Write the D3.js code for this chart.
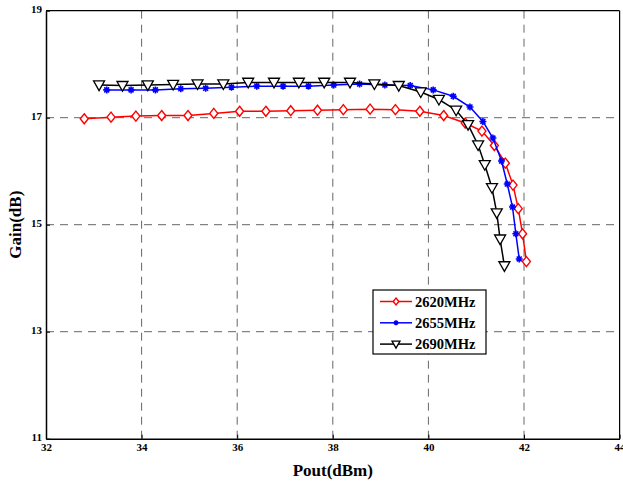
<!DOCTYPE html>
<html>
<head>
<meta charset="utf-8">
<script src="https://d3js.org/d3.v7.min.js"></script>
<style>
  body { margin: 0; background: #fff; }
  text { font-family: "Liberation Serif", "Times New Roman", serif; font-weight: bold; }
</style>
</head>
<body>
<div id="chart"></div>
<script>
// data
const pout2620 = [32.80, 33.36, 33.88, 34.42, 34.97, 35.51, 36.05, 36.60, 37.12, 37.68, 38.22, 38.78, 39.31, 39.82, 40.32, 40.77, 41.12, 41.38, 41.61, 41.77, 41.88, 41.97, 42.05];
const gain2620 = [16.98, 17.01, 17.03, 17.04, 17.04, 17.08, 17.12, 17.12, 17.13, 17.14, 17.15, 17.16, 17.15, 17.12, 17.04, 16.90, 16.75, 16.48, 16.15, 15.74, 15.30, 14.83, 14.31];

const pout2655 = [33.27, 33.78, 34.29, 34.82, 35.34, 35.88, 36.41, 36.96, 37.49, 38.02, 38.56, 39.09, 39.62, 40.10, 40.52, 40.87, 41.14, 41.35, 41.53, 41.65, 41.76, 41.83, 41.90];
const gain2655 = [17.52, 17.52, 17.52, 17.54, 17.55, 17.57, 17.59, 17.59, 17.59, 17.61, 17.63, 17.61, 17.60, 17.52, 17.40, 17.20, 16.93, 16.62, 16.19, 15.76, 15.33, 14.83, 14.36];

const pout2690 = [33.11, 33.60, 34.13, 34.66, 35.17, 35.71, 36.23, 36.77, 37.29, 37.82, 38.36, 38.87, 39.38, 39.84, 40.22, 40.58, 40.83, 41.04, 41.18, 41.33, 41.43, 41.50, 41.59];
const gain2690 = [17.61, 17.60, 17.61, 17.62, 17.63, 17.63, 17.66, 17.66, 17.66, 17.66, 17.66, 17.63, 17.60, 17.48, 17.34, 17.14, 16.87, 16.49, 16.12, 15.69, 15.22, 14.73, 14.23];

const seriesNames = ["2620MHz", "2655MHz", "2690MHz"];
const xTicks = [32, 34, 36, 38, 40, 42, 44];
const yTicks = [11, 13, 15, 17, 19];

const W = 623, H = 481;
const margin = {top: 10.7, right: 3.4, bottom: 42.3, left: 46};
const width = W - margin.left - margin.right,
      height = H - margin.top - margin.bottom;

const svg = d3.select("#chart").append("svg")
    .attr("width", W).attr("height", H)
  .append("g")
    .attr("transform", `translate(${margin.left},${margin.top})`);

const x = d3.scaleLinear().domain([32, 44]).range([0, width]);
const y = d3.scaleLinear().domain([11, 19]).range([height, 0]);

// grid
svg.selectAll(".vgrid")
  .data(xTicks.slice(1, -1))
  .join("line")
    .attr("x1", d => x(d)).attr("x2", d => x(d))
    .attr("y1", 0).attr("y2", height)
    .attr("stroke", "#666").attr("stroke-width", 1)
    .attr("stroke-dasharray", "8,6");
svg.selectAll(".hgrid")
  .data(yTicks.slice(1, -1))
  .join("line")
    .attr("x1", 0).attr("x2", width)
    .attr("y1", d => y(d)).attr("y2", d => y(d))
    .attr("stroke", "#666").attr("stroke-width", 1)
    .attr("stroke-dasharray", "8,6");

// axes
const xAxis = svg.append("g")
  .attr("transform", `translate(0,${height})`)
  .call(d3.axisBottom(x).tickValues(xTicks).tickSizeInner(-4).tickSizeOuter(0).tickPadding(6));
const yAxis = svg.append("g")
  .call(d3.axisLeft(y).tickValues(yTicks).tickSizeInner(-4).tickSizeOuter(0).tickPadding(4));
[xAxis, yAxis].forEach(a => {
  a.selectAll("path, line").attr("stroke", "#000");
  a.select(".domain").attr("stroke-width", 1.5);
  a.selectAll("text")
    .style("font-family", "'Liberation Serif', serif")
    .style("font-weight", "bold")
    .style("font-size", "11px")
    .attr("fill", "#000");
});
yAxis.selectAll("text").attr("dy", "0.2em");
xAxis.selectAll("text").attr("dy", "0.6em");

// box top & right
svg.append("line").attr("x1", 0).attr("x2", width).attr("y1", 0).attr("y2", 0)
  .attr("stroke", "#000").attr("stroke-width", 1.2);
svg.append("line").attr("x1", width).attr("x2", width).attr("y1", 0).attr("y2", height)
  .attr("stroke", "#000").attr("stroke-width", 1.2);

// axis labels
svg.append("text")
  .attr("x", width / 2).attr("y", height + 37)
  .attr("text-anchor", "middle")
  .style("font-size", "17px")
  .text("Pout(dBm)");
svg.append("text")
  .attr("transform", `translate(-25,${height / 2}) rotate(-90)`)
  .attr("text-anchor", "middle")
  .style("font-size", "17px")
  .text("Gain(dB)");

const line = d3.line().x(d => x(d[0])).y(d => y(d[1]));

function diamond(g, s) {
  g.append("path")
    .attr("d", `M0,${-s}L${s * 0.8},0L0,${s}L${-s * 0.8},0Z`)
    .attr("fill", "#fff").attr("stroke", "#f00").attr("stroke-width", 1.4);
}
function star(g, s) {
  g.append("path")
    .attr("d", `M${-s},0L${s},0M0,${-s}L0,${s}M${-s * 0.7},${-s * 0.7}L${s * 0.7},${s * 0.7}M${-s * 0.7},${s * 0.7}L${s * 0.7},${-s * 0.7}`)
    .attr("stroke", "#00f").attr("stroke-width", 1.6);
}
function tri(g, s) {
  g.append("path")
    .attr("d", `M${-s},${-s * 0.75}L${s},${-s * 0.75}L0,${s}Z`)
    .attr("fill", "#fff").attr("stroke", "#000").attr("stroke-width", 1.3);
}

const series = [
  {name: seriesNames[0], xs: pout2620, ys: gain2620, color: "#f00", mark: g => diamond(g, 5)},
  {name: seriesNames[1], xs: pout2655, ys: gain2655, color: "#00f", mark: g => star(g, 3.5)},
  {name: seriesNames[2], xs: pout2690, ys: gain2690, color: "#000", mark: g => tri(g, 5.5)}
];

series.forEach(s => {
  const pts = s.xs.map((v, i) => [v, s.ys[i]]);
  svg.append("path").datum(pts)
    .attr("d", line)
    .attr("fill", "none").attr("stroke", s.color).attr("stroke-width", 1.5);
  svg.selectAll(null).data(pts).join("g")
    .attr("transform", d => `translate(${x(d[0])},${y(d[1])})`)
    .each(function() { s.mark(d3.select(this)); });
});

// legend
const lg = svg.append("g").attr("transform", `translate(${373 - margin.left},${290 - margin.top})`);
lg.append("rect").attr("width", 113).attr("height", 64)
  .attr("fill", "#fff").attr("stroke", "#000").attr("stroke-width", 1.2);
series.forEach((s, i) => {
  const row = lg.append("g").attr("transform", `translate(0,${11.5 + i * 21.3})`);
  row.append("line").attr("x1", 7).attr("x2", 39).attr("stroke", s.color).attr("stroke-width", 1.5);
  const m = row.append("g").attr("transform", "translate(23,0)");
  if (i === 0) diamond(m, 3.5);
  if (i === 1) star(m, 2.5);
  if (i === 2) tri(m, 4);
  row.append("text").attr("x", 42).attr("y", 5)
    .style("font-size", "14.5px").text(s.name);
});
</script>
</body>
</html>
